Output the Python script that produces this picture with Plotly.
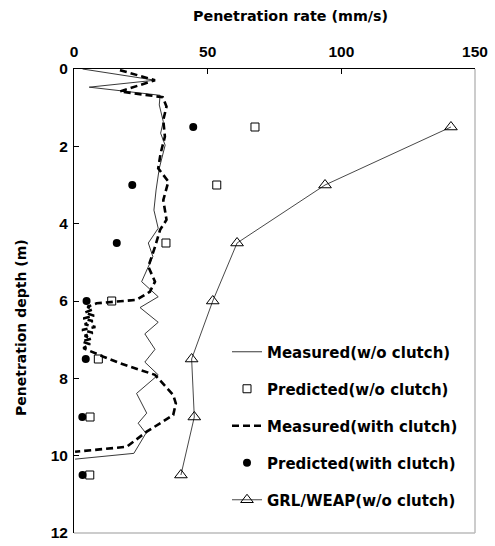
import plotly.graph_objects as go

# Measured (w/o clutch): rate (mm/s), depth (m)
meas_wo_rate = [3.2, 30.3, 5.7, 32.2, 31.9, 33.4, 32.4, 34.1, 31.9, 30.7, 29.9, 31.5, 27.8, 29.5,
                25.3, 31.5, 24.7, 31.5, 26.5, 30.3, 26.5, 31.5, 23.4, 27.2, 24.0, 26.9, 22.4, 0.4]
meas_wo_depth = [0.0, 0.29, 0.47, 0.68, 0.93, 1.36, 1.66, 1.97, 2.57, 3.13, 3.65, 4.12, 4.5, 4.85,
                 5.5, 5.89, 6.17, 6.55, 6.85, 7.25, 7.58, 7.91, 8.39, 8.9, 9.16, 9.42, 9.94, 10.09]

# Measured (with clutch)
meas_w_rate = [17.2, 30.3, 17.2, 33.2, 34.6, 33.4, 34.0, 32.4, 31.5, 35.3, 33.4, 34.6, 32.2, 30.3,
               27.8, 30.3, 28.4, 23.4, 8.5, 5.0, 7.0, 4.0, 7.5, 3.5, 7.0, 4.0, 8.0, 3.0, 7.0, 4.0,
               6.5, 3.0, 6.0, 3.5, 11.0, 17.2, 30.3, 37.1, 38.1, 37.1, 27.2, 19.7, 0.4]
meas_w_depth = [0.03, 0.29, 0.58, 0.73, 0.97, 1.32, 1.75, 2.18, 2.57, 2.91, 3.39, 3.9, 4.16, 4.6,
                5.11, 5.5, 5.76, 5.97, 6.06, 6.15, 6.22, 6.3, 6.38, 6.45, 6.52, 6.6, 6.67, 6.75, 6.82, 6.9,
                6.97, 7.05, 7.12, 7.22, 7.44, 7.61, 7.91, 8.43, 8.65, 8.95, 9.38, 9.77, 9.9]

# Predicted points
pred_depth = [1.5, 3.0, 4.5, 6.0, 7.5, 9.0, 10.5]
pred_wo_rate = [67.7, 53.4, 34.4, 14.1, 9.1, 6.0, 5.9]
pred_w_rate = [44.6, 21.8, 16.0, 4.7, 4.4, 3.1, 3.2]
grl_rate = [141.0, 93.9, 61.0, 51.9, 44.0, 45.0, 40.0]

x_ticks = [0, 50, 100, 150]
y_ticks = [0, 2, 4, 6, 8, 10, 12]

TICK_FONT = "Liberation Sans"
TEXT_FONT = "DejaVu Sans"
W, H = 495, 546
L, R, T, B = 74, 20, 69, 13
PW, PH = W - L - R, H - T - B

fig = go.Figure()
fig.add_trace(go.Scatter(x=meas_wo_rate, y=meas_wo_depth, mode="lines", name="Measured(w/o clutch)",
                         line=dict(color="#222222", width=0.9), legend="legend"))
fig.add_trace(go.Scatter(x=pred_wo_rate, y=pred_depth, mode="markers", name="Predicted(w/o clutch)",
                         marker=dict(symbol="square-open", size=8, color="black", line=dict(width=1)),
                         legend="legend2"))
fig.add_trace(go.Scatter(x=meas_w_rate, y=meas_w_depth, mode="lines", name="Measured(with clutch)",
                         line=dict(color="black", width=2.6, dash="7px,4px"), legend="legend3"))
fig.add_trace(go.Scatter(x=pred_w_rate, y=pred_depth, mode="markers", name="Predicted(with clutch)",
                         marker=dict(symbol="circle", size=8, color="black"), legend="legend4"))
fig.add_trace(go.Scatter(x=grl_rate, y=pred_depth, mode="lines+markers", name="GRL/WEAP(w/o clutch)",
                         line=dict(color="#333333", width=0.9),
                         marker=dict(symbol="triangle-up-open", size=11, color="black", line=dict(width=1)),
                         legend="legend5"))

def py2paper(py):
    return (H - B - py) / PH

leg_font = dict(family=TEXT_FONT, size=15, color="black", weight="bold")
legend_rows = [352, 389, 426, 463, 500]
leg_x = (227 - L) / PW
for i, py in enumerate(legend_rows):
    key = "legend" if i == 0 else f"legend{i+1}"
    fig.update_layout(**{key: dict(x=leg_x, y=py2paper(py), xanchor="left", yanchor="middle",
                                   font=leg_font, bgcolor="rgba(0,0,0,0)", borderwidth=0)})

tickfont = dict(family=TICK_FONT, size=15.5, color="black", weight="bold")
fig.update_xaxes(range=[0, 150], side="top", tickvals=x_ticks, ticks="inside", ticklen=5,
                 tickcolor="black", showline=True, linecolor="black", linewidth=1, showgrid=False,
                 zeroline=False, automargin=False, tickfont=tickfont, ticklabelstandoff=5)
fig.update_yaxes(range=[12, 0], tickvals=y_ticks, ticks="inside", ticklen=5,
                 tickcolor="black", showline=True, linecolor="black", linewidth=1, showgrid=False,
                 zeroline=False, automargin=False, tickfont=tickfont, ticklabelstandoff=2)

# right and bottom frame lines (grey)
fig.add_shape(type="line", xref="paper", yref="paper", x0=1, x1=1, y0=0, y1=1,
              line=dict(color="#bbbbbb", width=1.5))
fig.add_shape(type="line", xref="paper", yref="paper", x0=0, x1=1, y0=0, y1=0,
              line=dict(color="#bbbbbb", width=1.5))

fig.add_annotation(text="Penetration rate (mm/s)", xref="paper", yref="paper",
                   x=(290 - L) / PW, y=py2paper(16), showarrow=False,
                   font=dict(family=TEXT_FONT, size=14.3, color="black", weight="bold"),
                   xanchor="center", yanchor="middle")
fig.add_annotation(text="Penetration depth (m)", xref="paper", yref="paper",
                   x=(21 - L) / PW, y=py2paper(328), showarrow=False,
                   font=dict(family=TEXT_FONT, size=14, color="black", weight="bold"),
                   textangle=-90, xanchor="center", yanchor="middle")

fig.update_layout(width=W, height=H, margin=dict(l=L, r=R, t=T, b=B, autoexpand=False),
                  plot_bgcolor="white", paper_bgcolor="white", showlegend=True)

fig.write_html("out.html", config={"displayModeBar": False},
               post_script="document.body.style.margin='0';document.body.style.overflow='hidden';")
